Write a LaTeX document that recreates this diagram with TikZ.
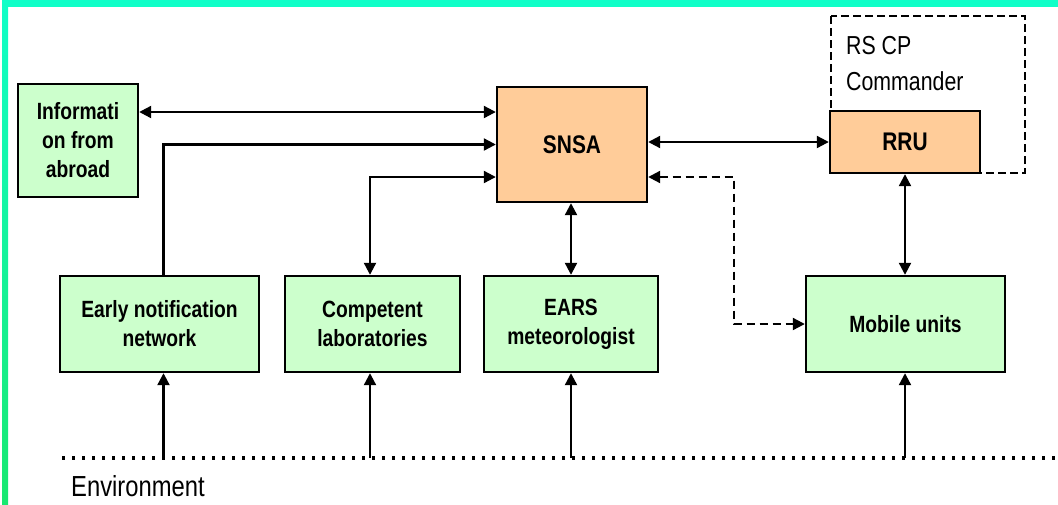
\documentclass[tikz,border=0pt]{standalone}
\usepackage{fontspec}
\newfontfamily\cond[FakeStretch=0.82]{Liberation Sans}
\usetikzlibrary{arrows.meta,calc}
\definecolor{boxgreen}{HTML}{CCFFCC}
\definecolor{boxorange}{HTML}{FFCC99}
\definecolor{frametop}{HTML}{10FFC8}
\definecolor{framebot}{HTML}{18E870}
\tikzset{
  gbox/.style={draw=black,line width=2.4pt,fill=boxgreen,align=center,inner sep=2pt,
    font=\cond\bfseries\fontsize{23.5}{29}\selectfont},
  obox/.style={draw=black,line width=2.4pt,fill=boxorange,align=center,inner sep=2pt,
    font=\cond\bfseries\fontsize{25.5}{30}\selectfont},
  conn/.style={line width=2.2pt,black,arrows={-Triangle[length=12pt,width=12pt]}},
  biconn/.style={line width=2.2pt,black,arrows={Triangle[length=12pt,width=12pt]-Triangle[length=12pt,width=12pt]}},
  dashconn/.style={biconn,dash pattern=on 8pt off 5pt},
  dotline/.style={line width=3.8pt,dash pattern=on 3pt off 7pt},
}
\begin{document}
\begin{tikzpicture}[x=1pt,y=-1pt]
\useasboundingbox (0,0) rectangle (1058,504);
% frame
\fill[frametop] (2,0) rectangle (1058,7);
\shade[top color=frametop,bottom color=framebot] (2,0) rectangle (8,504);

% dashed RS CP box
\draw[line width=2.2pt,dash pattern=on 8pt off 4pt] (831,16) rectangle (1025,173);
\node[anchor=north west,align=left,inner sep=0pt,font=\cond\fontsize{26}{36}\selectfont] (rscp) at (846,36) {RS CP\\Commander};

% nodes
\node[gbox,minimum width=120pt,minimum height=113pt] (info) at (78,140.5) {Informati\\on from\\abroad};
\node[obox,minimum width=150pt,minimum height=115pt] (snsa) at (572,144.5) {SNSA};
\node[obox,minimum width=150pt,minimum height=62pt] (rru) at (905,142) {RRU};
\node[gbox,minimum width=199pt,minimum height=96pt] (early) at (159.5,324) {Early notification\\network};
\node[gbox,minimum width=175pt,minimum height=96pt] (comp) at (372.5,324) {Competent\\laboratories};
\node[gbox,minimum width=174pt,minimum height=96pt] (ears) at (571,324) {EARS\\meteorologist};
\node[gbox,minimum width=199pt,minimum height=96pt] (mobile) at (905.5,324) {Mobile units};

% helper coordinates
\coordinate (pA) at ([yshift=32.5pt]snsa.west);
\coordinate (pB) at ([yshift=-32.5pt]snsa.west);
\coordinate (pC) at ([yshift=-32.5pt]snsa.east);
\coordinate (e1) at ([xshift=4pt]early.north);
\coordinate (c1) at ([xshift=-2.5pt]comp.north);
\coordinate (dx) at (734,0);
\coordinate (envL) at (62,458);
\coordinate (envR) at (1058,458);

% connectors
\draw[biconn] (pA -| info.east) -- (pA);
\draw[conn] (e1) |- (snsa.west);
\draw[biconn] (c1) |- (pB);
\draw[biconn] (ears.north |- snsa.south) -- (ears.north);
\draw[biconn] (snsa.east |- rru.west) -- (rru.west);
\draw[biconn] (rru.south) -- (rru.south |- mobile.north);
\draw[dashconn] (pC) -- (pC -| dx) |- (mobile.west);

% environment
\draw[dotline] (envL) -- (envR);
\draw[conn] (e1 |- envL) -- (e1 |- early.south);
\draw[conn] (c1 |- envL) -- (c1 |- comp.south);
\draw[conn] (ears.south |- envL) -- (ears.south);
\draw[conn] (rru.south |- envL) -- (rru.south |- mobile.south);
\node[anchor=base west,inner sep=0pt,font=\cond\fontsize{29}{34}\selectfont] (env) at (71,496) {Environment};
\end{tikzpicture}
\end{document}
